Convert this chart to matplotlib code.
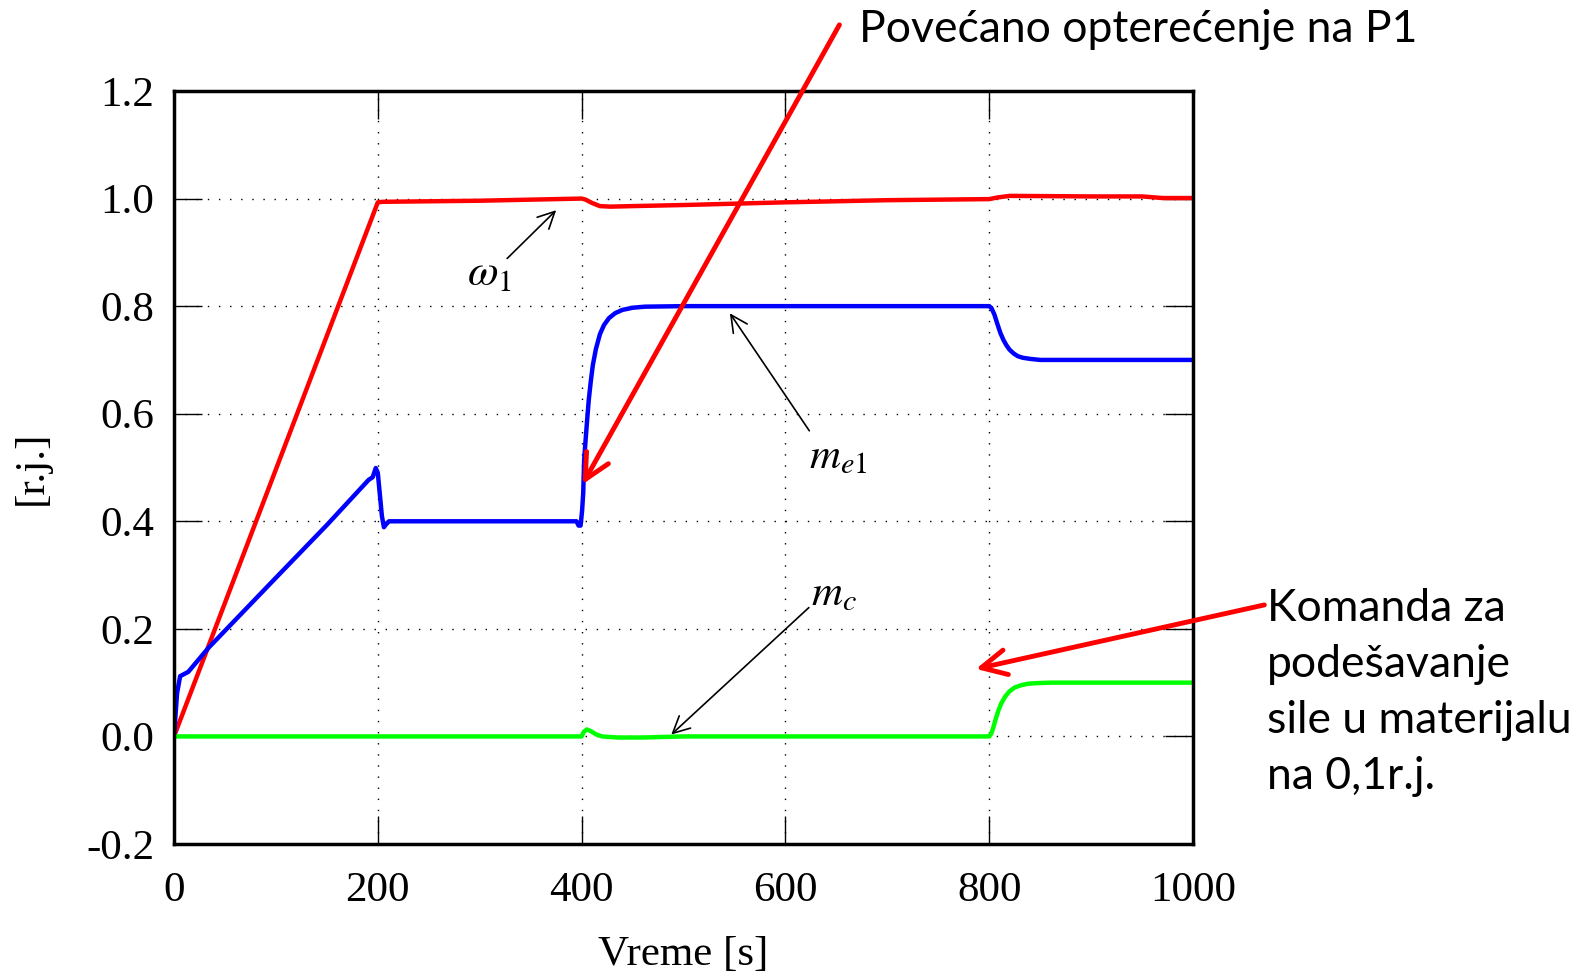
import numpy as np
import matplotlib
matplotlib.use("Agg")
import matplotlib.pyplot as plt

# ================================ Data ================================ #

t_w1 = [0, 200, 205, 300, 400, 404, 410, 418, 428, 450, 500, 600, 700, 800, 808, 820, 900, 950, 970, 1000]
w1 = [0.0, 0.993, 0.994, 0.996, 1.0, 0.998, 0.992, 0.986, 0.985, 0.986, 0.988, 0.993, 0.997, 0.999, 1.002, 1.005, 1.004, 1.004, 1.001, 1.001]

t_me1 = [0, 3, 6, 10, 14, 34, 100, 150, 191, 195, 198, 200, 202, 204, 206, 208, 211, 300, 395, 397, 399,
         400.5, 401.6, 402.5, 403.8, 405.3, 407, 409, 411, 414, 418, 422, 427, 433, 440, 450, 462, 500, 600,
         800, 802, 805, 808, 811, 814, 817, 820, 824, 828, 833, 840, 850, 1000]
me1 = [0.0, 0.08, 0.112, 0.116, 0.12, 0.165, 0.295, 0.393, 0.477, 0.482, 0.499, 0.49, 0.45, 0.41, 0.389, 0.394, 0.4, 0.4, 0.4, 0.392, 0.392,
       0.42, 0.453, 0.514, 0.548, 0.585, 0.625, 0.66, 0.69, 0.72, 0.748, 0.765, 0.778, 0.787, 0.793, 0.797, 0.799, 0.8, 0.8,
       0.8, 0.797, 0.785, 0.767, 0.75, 0.737, 0.727, 0.719, 0.712, 0.707, 0.704, 0.702, 0.7, 0.7]

t_mc = [0, 400, 402, 405, 409, 414, 420, 435, 460, 500, 800, 802, 804, 806, 809, 812, 816, 820, 825, 831, 838, 846, 860, 1000]
mc = [0.0, 0.0, 0.008, 0.013, 0.01, 0.004, 0.0, -0.002, -0.002, 0.0, 0.0, 0.005, 0.016, 0.03, 0.048, 0.062, 0.075, 0.084, 0.091, 0.095, 0.098, 0.099, 0.1, 0.1]

x_ticks = [0, 200, 400, 600, 800, 1000]
y_ticks = [-0.2, 0.0, 0.2, 0.4, 0.6, 0.8, 1.0, 1.2]

# ================================ Figure ================================ #

plt.rcParams["mathtext.fontset"] = "stix"
serif = "Liberation Serif"
sans = "Lato"

fig = plt.figure(figsize=(15.89, 9.72), dpi=100)
ax = fig.add_axes([174 / 1589, 1 - 844 / 972, (1193 - 174) / 1589, (844 - 91) / 972])

ax.plot(t_w1, w1, color="#ff0000", lw=3.2)
ax.plot(t_me1, me1, color="#0000ff", lw=3.2)
ax.plot(t_mc, mc, color="#00ff00", lw=3.2)

ax.set_xlim(0, 1000)
ax.set_ylim(-0.2, 1.2)
ax.set_xticks(x_ticks)
ax.set_yticks(y_ticks)
ax.set_xticklabels([str(v) for v in x_ticks], fontfamily=serif, fontsize=31)
ax.set_yticklabels(["%.1f" % v for v in y_ticks], fontfamily=serif, fontsize=31)
ax.tick_params(direction="in", length=20, width=1, top=True, right=True)
ax.tick_params(axis="x", pad=20)
ax.tick_params(axis="y", pad=14)
for s in ax.spines.values():
    s.set_linewidth(2.5)
ax.grid(True, color="black", linestyle=(0, (1, 7)), lw=1)

ax.set_xlabel("Vreme [s]", fontfamily=serif, fontsize=31, labelpad=18)
ax.set_ylabel("[r.j.]", fontfamily=serif, fontsize=31, labelpad=26)

# ================================ Annotations ================================ #

thin = dict(arrowstyle="->", color="black", lw=1.2, mutation_scale=30)
ax.text(309, 0.862, r"$\omega_1$", fontsize=32, ha="center", va="center")
ax.annotate("", xy=(377, 0.982), xytext=(325, 0.885), arrowprops=thin)
ax.text(652, 0.52, r"$m_{e1}$", fontsize=31, ha="center", va="center")
ax.annotate("", xy=(544, 0.791), xytext=(625, 0.564), arrowprops=thin)
ax.text(648, 0.267, r"$m_c$", fontsize=31, ha="center", va="center")
ax.annotate("", xy=(486, 0.0), xytext=(625, 0.243), arrowprops=thin)

thick = dict(arrowstyle="->", color="#ff0000", lw=3.5, mutation_scale=45, shrinkA=0, shrinkB=0)
ax.annotate("", xy=(401, 0.469), xytext=(653, 1.323), arrowprops=thick, annotation_clip=False)
ax.annotate("", xy=(787, 0.1255), xytext=(1070, 0.2445), arrowprops=thick, annotation_clip=False)

fig.text(859 / 1589, 1 - 30 / 972, "Povećano opterećenje na P1", fontfamily=sans,
         fontsize=32, ha="left", va="center")
fig.text(1267 / 1589, 1 - 588 / 972, "Komanda za\npodešavanje\nsile u materijalu\nna 0,1r.j.",
         fontfamily=sans, fontsize=32, ha="left", va="top", linespacing=1.45)

fig.savefig("out.png", dpi=100)
